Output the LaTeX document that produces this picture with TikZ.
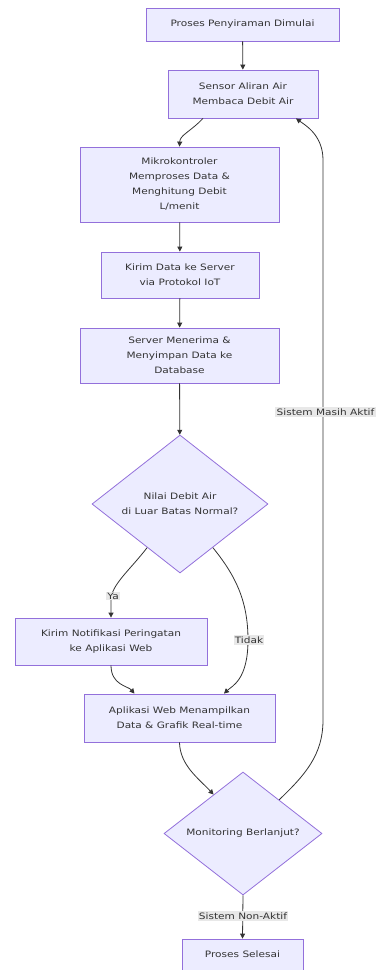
\documentclass[tikz,border=0pt]{standalone}
\usepackage{fontspec}
\setmainfont{DejaVu Sans}[FakeStretch=1.2]
\usetikzlibrary{shapes.geometric,arrows.meta}
\definecolor{nodefill}{HTML}{ECECFF}
\definecolor{nodeline}{HTML}{9370DB}
\definecolor{ink}{HTML}{333333}
\definecolor{lblbg}{HTML}{E8E8E8}
\begin{document}
\begin{tikzpicture}[x=1pt,y=1pt,
  font=\fontsize{8.8}{15}\selectfont,
  procbox/.style={draw=nodeline, fill=nodefill, line width=0.8pt, text=ink, align=center, inner sep=0pt},
  decbox/.style={diamond, draw=nodeline, fill=nodefill, line width=0.8pt, text=ink, align=center, inner sep=0pt},
  conn/.style={draw=ink, line width=0.8pt, -{Triangle[length=5pt,width=5pt]}},
  elabel/.style={fill=lblbg, text=ink, inner sep=1.2pt}]
\path[use as bounding box] (0,0) rectangle (376,-970);

\node[procbox, minimum width=193pt, minimum height=33pt] (start) at (242.5,-24.5) {Proses Penyiraman Dimulai};
\node[procbox, minimum width=150pt, minimum height=48pt] (sensor) at (243,-94) {Sensor Aliran Air\\Membaca Debit Air};
\node[procbox, minimum width=199pt, minimum height=75pt] (mikro) at (179.5,-184.5) {Mikrokontroler\\Memproses Data \&\\Menghitung Debit\\L/menit};
\node[procbox, minimum width=158pt, minimum height=46pt] (kirim) at (180,-275) {Kirim Data ke Server\\via Protokol IoT};
\node[procbox, minimum width=199pt, minimum height=55pt] (server) at (179.5,-355.5) {Server Menerima \&\\Menyimpan Data ke\\Database};
\node[decbox, aspect=1.27, minimum width=176pt, minimum height=138pt] (d1) at (180,-504) {Nilai Debit Air\\di Luar Batas Normal?};
\node[procbox, minimum width=192pt, minimum height=47pt] (notif) at (111,-641.5) {Kirim Notifikasi Peringatan\\ke Aplikasi Web};
\node[procbox, minimum width=191pt, minimum height=48pt] (app) at (179.5,-718) {Aplikasi Web Menampilkan\\Data \& Grafik Real-time};
\node[decbox, aspect=1.28, minimum width=158pt, minimum height=123pt] (d2) at (243,-833.5) {Monitoring Berlanjut?};
\node[procbox, minimum width=121pt, minimum height=31pt] (end) at (242.5,-954.5) {Proses Selesai};

\draw[conn] (start) -- (sensor);
\draw[conn] ([xshift=-40pt]sensor.south) .. controls (190,-132) and (180,-135) .. (mikro.north);
\draw[conn] (mikro) -- (kirim);
\draw[conn] (kirim) -- (server);
\draw[conn] (server) -- (d1);
\draw[conn] (d1.-127) .. controls (130,-570) and (111,-585) .. (111,-600) -- (notif.north);
\node[elabel] (lya) at (113,-596) {Ya};
\draw[conn] (d1.-53) .. controls (235,-575) and (248,-600) .. (248,-640) .. controls (248,-680) and (232,-686) .. ([xshift=44.5pt]app.north);
\node[elabel] (ltidak) at (249,-640) {Tidak};
\draw[conn] (notif.south) .. controls (111,-685) and (128,-686) .. ([xshift=-45pt]app.north);
\draw[conn] (app.south) .. controls (180,-765) and (198,-778) .. (d2.127);
\draw[conn] (d2.43) .. controls (305,-775) and (323,-755) .. (323,-720) -- (323,-160) .. controls (323,-135) and (305,-125) .. ([xshift=53pt]sensor.south);
\node[elabel] (laktif) at (325.5,-412) {Sistem Masih Aktif};
\draw[conn] (d2.south) -- (end.north);
\node[elabel] (lnon) at (243,-916) {Sistem Non-Aktif};
\end{tikzpicture}
\end{document}
